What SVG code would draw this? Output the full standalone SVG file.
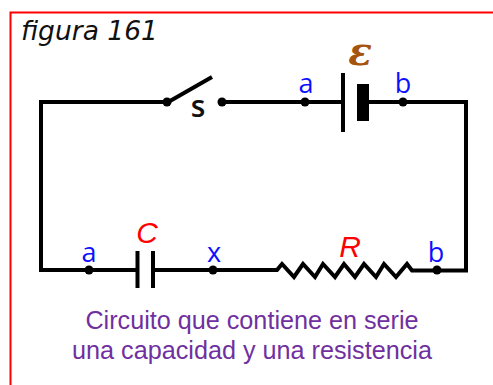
<svg xmlns="http://www.w3.org/2000/svg" width="493" height="385" viewBox="0 0 493 385">
<style>
.w{fill:none;stroke:#000;stroke-width:4}
.d{fill:#000}
.l{font-family:"Open Sans","DejaVu Sans",sans-serif;font-size:27px;fill:#0f0fff;text-anchor:middle}
.v{font-family:"Liberation Sans",sans-serif;font-size:30px;font-style:italic;fill:#f00;text-anchor:middle}
.c{font-family:"Liberation Sans",sans-serif;font-size:25.200px;fill:#7030a0;text-anchor:middle}
</style>
<rect width="493" height="385" fill="#fff"/>
<path d="M10.500 385V12.500H493" fill="none" stroke="#f00" stroke-width="2"/>
<text id="title" x="21" y="40" font-family="DejaVu Sans,sans-serif" font-style="italic" font-size="26.500" fill="#111">figura 161</text>
<g id="connectors">
<path class="w" d="M167 102H41V270H137M153 270H277L282 264L294 277L303 264L315 277L323 264L335 277L344 264L355 277L364 264L376 277L384 264L396 277L407 264L412 270.500H466V102H369M222 102H343"/>
</g>
<g id="switch"><circle class="d" cx="167" cy="102" r="4.500"/><circle class="d" cx="222" cy="102" r="4.500"/><path class="w" d="M170 101L212 77"/><text x="198" y="117" font-family="Open Sans,DejaVu Sans,sans-serif" font-weight="600" font-size="30" fill="#111" text-anchor="middle">s</text></g>
<g id="battery"><path class="w" d="M343 73V132"/><rect class="d" x="357" y="84" width="12" height="37"/><text x="360" y="65" font-family="DejaVu Serif,serif" font-style="italic" font-weight="bold" font-size="39" fill="#a5540f" text-anchor="middle">ε</text></g>
<g id="node-a-top"><circle class="d" cx="305" cy="102" r="4.500"/><text class="l" x="306" y="93">a</text></g>
<g id="node-b-top"><circle class="d" cx="403" cy="102" r="4.500"/><text class="l" x="403" y="93">b</text></g>
<g id="capacitor"><path class="w" d="M137.500 251V288M153 251V288"/><text class="v" x="147" y="243">C</text></g>
<g id="node-a-bottom"><circle class="d" cx="89" cy="270" r="4.500"/><text class="l" x="89" y="262">a</text></g>
<g id="node-x"><circle class="d" cx="213" cy="270" r="4.500"/><text class="l" x="214" y="262">x</text></g>
<g id="resistor"><text class="v" x="350" y="257">R</text></g>
<g id="node-b-bottom"><circle class="d" cx="437" cy="270" r="4.500"/><text class="l" x="436" y="262">b</text></g>
<g id="caption"><text class="c" x="252" y="329">Circuito que contiene en serie</text><text class="c" x="252" y="359">una capacidad y una resistencia</text></g>
</svg>
